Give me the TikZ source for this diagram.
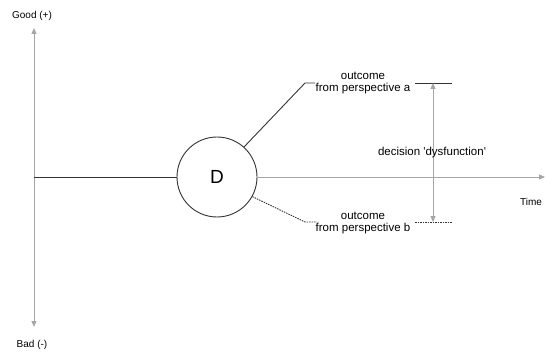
\documentclass[tikz,border=0pt]{standalone}
\usepackage{fontspec}
\setmainfont{Liberation Sans}
\usetikzlibrary{arrows.meta}
\definecolor{axisgray}{HTML}{A6A6A6}
\definecolor{linedark}{HTML}{333333}
\tikzset{axtip/.tip={Triangle[length=6pt,width=5pt]}}
\begin{document}
\begin{tikzpicture}[x=1pt,y=-1pt,
  axisline/.style={draw=axisgray, line width=1pt},
  blk/.style={draw=linedark, line width=0.9pt},
  dotline/.style={draw=linedark, line width=0.9pt, dash pattern=on 1.5pt off 1pt},
  lbl/.style={font=\fontsize{11.5}{12}\selectfont, align=center, inner sep=0pt},
  axlbl/.style={font=\fontsize{10}{12}\selectfont, inner sep=0pt}]
\useasboundingbox (0,0) rectangle (547,353);
% decision node
\node[circle, draw=linedark, line width=0.9pt, minimum size=80pt, inner sep=0pt,
      font=\fontsize{19}{19}\selectfont] (D) at (217,177) {D};
% value axis
\coordinate (yTop) at (34,28);
\coordinate (yBot) at (34,327);
\coordinate (origin) at (34,177);
\draw[axisline, axtip-axtip, fill=axisgray] (yTop) -- (yBot);
\node[axlbl] (good) at (32,16) {Good (+)};
\node[axlbl] (bad) at (32,345) {Bad (-)};
% time axis
\draw[blk] (origin) -- (D.west);
\coordinate (tEnd) at (545,177);
\draw[axisline, -axtip, fill=axisgray] (D.east) -- (tEnd);
\node[axlbl] (time) at (531,202) {Time};
% perspective a
\coordinate (aKnee) at (305,83);
\coordinate (aEnd) at (315,83);
\draw[blk] (D.48) -- (aKnee) -- (aEnd);
\node[lbl] (la) at (363,83) {outcome\\from perspective a};
\coordinate (aBarL) at (415,83);
\coordinate (aBarR) at (452,83);
\draw[blk] (aBarL) -- (aBarR);
% perspective b
\coordinate (bKnee) at (305,222);
\coordinate (bEnd) at (317,222);
\draw[dotline] (D.-29) -- (bKnee) -- (bEnd);
\node[lbl] (lb) at (363,223) {outcome\\from perspective b};
\coordinate (bBarL) at (415,222);
\coordinate (bBarR) at (452,222);
\draw[dotline] (bBarL) -- (bBarR);
% dysfunction span
\coordinate (aMid) at (433,83);
\coordinate (bMid) at (433,222);
\draw[axisline, axtip-axtip, fill=axisgray] (aMid) -- (bMid);
\node[lbl] (dys) at (432,153) {decision \textquotesingle dysfunction\textquotesingle};
\end{tikzpicture}
\end{document}
